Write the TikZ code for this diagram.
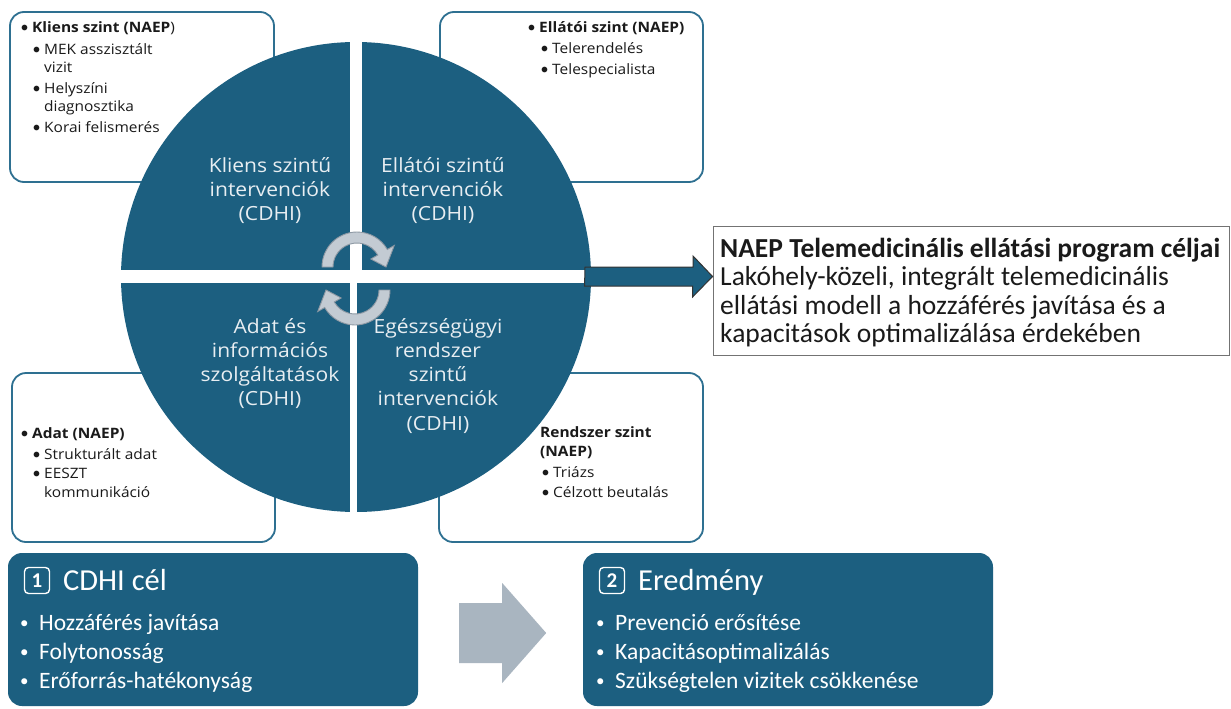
\documentclass[tikz,border=0pt]{standalone}
\usepackage{fontspec}
\setmainfont[FakeStretch=1.08]{Open Sans}
\newfontfamily\narrowfont{Carlito}

\definecolor{wheel}{HTML}{1C5F80}
\definecolor{boxline}{HTML}{2E7091}
\definecolor{ink}{HTML}{1A1A1A}
\definecolor{wheeltxt}{HTML}{E8EEF2}
\definecolor{spinfill}{HTML}{C3CBD3}
\definecolor{spinline}{HTML}{8E99A4}
\definecolor{flowgray}{HTML}{A9B5C0}

\newcommand{\itembullet}{\makebox[10pt][l]{\hspace{-1.5pt}{\narrowfont\fontsize{16}{16}\selectfont •}}}
\newcommand{\goalbullet}{\makebox[19pt][l]{\raisebox{1.5pt}{\fontsize{17}{17}\selectfont •}}}

\begin{document}
\begin{tikzpicture}[x=1pt, y=-1pt,
  cornerbox/.style={draw=boxline, line width=1.8pt, rounded corners=14pt, fill=white, inner sep=0pt},
  listtext/.style={anchor=base west, inner sep=0pt, text=ink, font=\fontsize{14.3}{18}\selectfont},
  wheeltext/.style={anchor=base, inner sep=0pt, text=wheeltxt, font=\fontsize{19.5}{24.3}\selectfont},
  spin/.style={fill=spinfill, draw=spinline, line width=0.9pt},
  blockarrow/.style={fill=wheel, draw=black!80, line width=1pt},
  aimsbox/.style={draw=black!55, line width=0.9pt, fill=white, inner sep=0pt},
  aimstext/.style={anchor=base west, inner sep=0pt, text=ink, font=\narrowfont\fontsize{27.5}{28.5}\selectfont},
  goalbox/.style={fill=wheel, rounded corners=14pt, inner sep=0pt},
  numbox/.style={draw=white, line width=1.4pt, rounded corners=4pt, minimum width=25pt, minimum height=26pt,
    inner sep=0pt, text=white, font=\narrowfont\bfseries\fontsize{21}{21}\selectfont},
  headtext/.style={anchor=base west, inner sep=0pt, text=white, font=\narrowfont\fontsize{30.5}{30}\selectfont},
  goaltext/.style={anchor=base west, inner sep=0pt, text=white, font=\narrowfont\fontsize{23.5}{29}\selectfont}
]
\fill[white] (0,0) rectangle (1231,709);
\useasboundingbox (0,0) rectangle (1231,709);

% corner boxes behind the wheel
\node[cornerbox, minimum width=264pt, minimum height=170pt] (clientbox) at (142,97) {};
\node[cornerbox, minimum width=263pt, minimum height=170pt] (providerbox) at (571.5,97) {};
\node[cornerbox, minimum width=263pt, minimum height=169pt] (databox) at (143.5,457.5) {};
\node[cornerbox, minimum width=264pt, minimum height=169pt] (systembox) at (571,457.5) {};

\node[listtext] (clientlist) at (22,33) {\begin{tabular}[t]{@{}l@{}}
  \itembullet\textbf{Kliens szint (NAEP})\\[4pt]
  \hspace{12pt}\itembullet MEK asszisztált\\
  \hspace{22pt}vizit\\[3pt]
  \hspace{12pt}\itembullet Helyszíni\\
  \hspace{22pt}diagnosztika\\[3pt]
  \hspace{12pt}\itembullet Korai felismerés
\end{tabular}};

\node[listtext] (providerlist) at (529,33) {\begin{tabular}[t]{@{}l@{}}
  \itembullet\textbf{Ellátói szint (NAEP)}\\[3pt]
  \hspace{13pt}\itembullet Telerendelés\\[3pt]
  \hspace{13pt}\itembullet Telespecialista
\end{tabular}};

\node[listtext] (datalist) at (22,438) {\begin{tabular}[t]{@{}l@{}}
  \itembullet\textbf{Adat (NAEP)}\\[3pt]
  \hspace{12pt}\itembullet Strukturált adat\\[1pt]
  \hspace{12pt}\itembullet EESZT\\[1pt]
  \hspace{22pt}kommunikáció
\end{tabular}};

\node[listtext] (systemlist) at (540,437) {\begin{tabular}[t]{@{}l@{}}
  \textbf{Rendszer szint}\\[1pt]
  \textbf{(NAEP)}\\[3pt]
  \hspace{3pt}\itembullet Triázs\\[2pt]
  \hspace{3pt}\itembullet Célzott beutalás
\end{tabular}};

% the wheel: four quadrants split by white gaps
\begin{scope}
  \clip (356,277) circle [radius=235pt];
  \fill[wheel] (100,30) rectangle (350,270);
  \fill[wheel] (362,30) rectangle (600,270);
  \fill[wheel] (100,283) rectangle (350,530);
  \fill[wheel] (357,283) rectangle (600,530);
\end{scope}

\node[wheeltext] (clientq) at (270,172) {\begin{tabular}[t]{@{}c@{}}Kliens szintű\\intervenciók\\(CDHI)\end{tabular}};
\node[wheeltext] (providerq) at (443,172) {\begin{tabular}[t]{@{}c@{}}Ellátói szintű\\intervenciók\\(CDHI)\end{tabular}};
\node[wheeltext] (dataq) at (270,333) {\begin{tabular}[t]{@{}c@{}}Adat és\\információs\\szolgáltatások\\(CDHI)\end{tabular}};
\node[wheeltext] (systemq) at (438,333) {\begin{tabular}[t]{@{}c@{}}Egészségügyi\\rendszer\\szintű\\intervenciók\\(CDHI)\end{tabular}};

% turning arrows in the middle
\begin{scope}[shift={(357,267)}]
  \filldraw[spin] (180:35pt) arc[start angle=180, end angle=30, radius=35pt] -- (30:43pt) -- (0:29pt)
    -- (30:16pt) -- (30:24pt) arc[start angle=30, end angle=180, radius=24pt] -- cycle;
\end{scope}
\begin{scope}[shift={(355,290)}]
  \filldraw[spin] (0:35pt) arc[start angle=0, end angle=-150, radius=35pt] -- (-150:43pt) -- (-180:29pt)
    -- (-150:16pt) -- (-150:24pt) arc[start angle=-150, end angle=0, radius=24pt] -- cycle;
\end{scope}

% programme aims
\node[aimsbox, minimum width=516pt, minimum height=129pt] (aims) at (971,290.5) {};
\node[aimstext] (aimslist) at (720,257) {\begin{tabular}[t]{@{}l@{}}
  \textbf{NAEP Telemedicinális ellátási program céljai}\\
  Lakóhely-közeli, integrált telemedicinális\\
  ellátási modell a hozzáférés javítása és a\\
  kapacitások optimalizálása érdekében
\end{tabular}};

\coordinate (wheeltip) at (585,276.5);
\draw[blockarrow] (wheeltip) ++(0,-9.5) -- ++(108,0) -- ++(0,-11) -- (aims.west |- wheeltip)
  -- ++(-20,20.5) -- ++(0,-11) -- ++(-108,0) -- cycle;

% goal and outcome
\node[goalbox, minimum width=410pt, minimum height=153pt] (goal) at (213,629.5) {};
\node[numbox] (goalnum) at (37,580.5) {1};
\node[headtext] (goalhead) at (63,590) {CDHI cél};
\node[goaltext] (goallist) at (20,630) {\begin{tabular}[t]{@{}l@{}}
  \goalbullet Hozzáférés javítása\\
  \goalbullet Folytonosság\\
  \goalbullet Erőforrás-hatékonyság
\end{tabular}};

\node[goalbox, minimum width=410pt, minimum height=153pt] (result) at (788,629.5) {};
\node[numbox] (resultnum) at (612,580.5) {2};
\node[headtext] (resulthead) at (638,590) {Eredmény};
\node[goaltext] (resultlist) at (596,630) {\begin{tabular}[t]{@{}l@{}}
  \goalbullet Prevenció erősítése\\
  \goalbullet Kapacitásoptimalizálás\\
  \goalbullet Szükségtelen vizitek csökkenése
\end{tabular}};

\fill[flowgray] ([xshift=41pt]goal.east) ++(0,-26.5) -- ++(43,0) -- ++(0,-20) -- ++(44,50)
  -- ++(-44,50) -- ++(0,-20) -- ++(-43,0) -- cycle;

\end{tikzpicture}
\end{document}
